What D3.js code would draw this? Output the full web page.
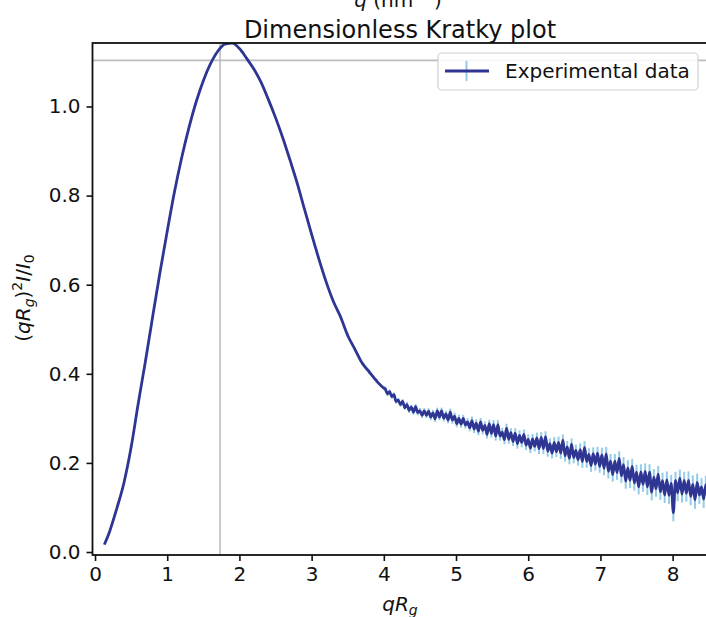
<!DOCTYPE html>
<html><head><meta charset="utf-8">
<script src="https://cdn.jsdelivr.net/npm/d3@7"></script>
<style>body{margin:0;background:#fff} svg{display:block} text{font-family:"DejaVu Sans",sans-serif;fill:#111}</style>
</head><body><svg id="c" width="706" height="617"></svg>
<script>
// ---- data ----
const qRg = [0.13,0.2,0.3,0.4,0.5,0.6,0.7,0.8,0.9,1.0,1.1,1.2,1.3,1.4,1.5,1.6,1.7,1.8,1.9,2.0,
  2.1,2.2,2.3,2.4,2.5,2.6,2.7,2.8,2.9,3.0,3.1,3.2,3.3,3.4,3.5,3.6,3.7,3.8,3.9,4.0,
  4.02,4.05,4.08,4.11,4.14,4.17,4.20,4.23,4.26,4.29,
  4.32,4.35,4.38,4.41,4.44,4.47,4.50,4.53,4.56,4.59,
  4.62,4.65,4.68,4.71,4.74,4.77,4.80,4.83,4.86,4.89,
  4.92,4.95,4.98,5.01,5.04,5.07,5.10,5.13,5.16,5.19,
  5.22,5.25,5.28,5.31,5.34,5.37,5.40,5.43,5.46,5.49,
  5.52,5.55,5.58,5.61,5.64,5.67,5.70,5.73,5.76,5.79,
  5.82,5.85,5.88,5.91,5.94,5.97,6.00,6.03,6.06,6.09,
  6.12,6.15,6.18,6.21,6.24,6.27,6.30,6.33,6.36,6.39,
  6.42,6.45,6.48,6.51,6.54,6.57,6.60,6.63,6.66,6.69,
  6.72,6.75,6.78,6.81,6.84,6.87,6.90,6.93,6.96,6.99,
  7.02,7.05,7.08,7.11,7.14,7.17,7.20,7.23,7.26,7.29,
  7.32,7.35,7.38,7.41,7.44,7.47,7.50,7.53,7.56,7.59,
  7.62,7.65,7.68,7.71,7.74,7.77,7.80,7.83,7.86,7.89,
  7.92,7.95,7.98,8.01,8.04,8.07,8.10,8.13,8.16,8.19,
  8.22,8.25,8.28,8.31,8.34,8.37,8.40,8.43,8.46,8.49];
const kratky = [0.017,0.045,0.097,0.155,0.235,0.335,0.430,0.530,0.628,0.720,0.808,0.885,0.952,1.010,1.058,1.096,1.124,1.140,1.142,1.130,
  1.108,1.084,1.054,1.016,0.975,0.930,0.880,0.828,0.770,0.713,0.658,0.607,0.563,0.528,0.486,0.455,0.424,0.404,0.384,0.368,
  0.366,0.355,0.360,0.349,0.353,0.338,0.341,0.331,0.338,0.324,
  0.331,0.318,0.325,0.314,0.326,0.313,0.317,0.307,0.317,0.307,
  0.316,0.303,0.312,0.299,0.317,0.303,0.317,0.300,0.310,0.296,
  0.314,0.296,0.305,0.288,0.300,0.287,0.300,0.285,0.292,0.279,
  0.295,0.276,0.289,0.271,0.292,0.273,0.284,0.264,0.288,0.266,
  0.286,0.260,0.286,0.260,0.269,0.252,0.278,0.253,0.268,0.248,
  0.267,0.243,0.262,0.246,0.264,0.240,0.253,0.233,0.254,0.237,
  0.256,0.232,0.257,0.232,0.259,0.226,0.243,0.222,0.246,0.225,
  0.246,0.222,0.251,0.216,0.236,0.210,0.242,0.212,0.228,0.207,
  0.230,0.203,0.235,0.203,0.219,0.194,0.221,0.197,0.222,0.192,
  0.218,0.188,0.220,0.181,0.204,0.174,0.204,0.178,0.210,0.171,
  0.196,0.159,0.189,0.161,0.192,0.155,0.179,0.146,0.180,0.152,
  0.181,0.146,0.179,0.134,0.168,0.142,0.175,0.135,0.160,0.128,
  0.162,0.127,0.154,0.088,0.161,0.133,0.166,0.130,0.161,0.132,
  0.161,0.125,0.152,0.117,0.156,0.128,0.146,0.119,0.151,0.130];
const kratkyErr = [0.001,0.001,0.001,0.001,0.001,0.001,0.001,0.001,0.001,0.001,0.001,0.001,0.001,0.001,0.001,0.001,0.001,0.001,0.001,0.001,
  0.002,0.002,0.002,0.002,0.002,0.002,0.002,0.002,0.002,0.003,0.003,0.003,0.003,0.004,0.004,0.004,0.004,0.005,0.005,0.005,
  0.005,0.005,0.005,0.005,0.005,0.005,0.005,0.005,0.005,0.005,
  0.006,0.006,0.006,0.006,0.006,0.006,0.006,0.006,0.006,0.006,
  0.007,0.007,0.007,0.007,0.007,0.007,0.007,0.007,0.007,0.007,
  0.008,0.008,0.008,0.008,0.008,0.008,0.008,0.008,0.008,0.008,
  0.009,0.009,0.009,0.009,0.009,0.009,0.009,0.009,0.009,0.009,
  0.010,0.010,0.010,0.010,0.010,0.010,0.010,0.010,0.010,0.010,
  0.011,0.011,0.011,0.011,0.011,0.011,0.011,0.011,0.011,0.011,
  0.012,0.012,0.012,0.012,0.012,0.012,0.012,0.012,0.012,0.012,
  0.013,0.013,0.013,0.013,0.013,0.013,0.013,0.013,0.013,0.013,
  0.014,0.014,0.014,0.014,0.014,0.014,0.014,0.014,0.014,0.014,
  0.016,0.016,0.016,0.016,0.016,0.016,0.016,0.016,0.016,0.016,
  0.017,0.017,0.017,0.017,0.017,0.017,0.017,0.017,0.017,0.017,
  0.018,0.018,0.018,0.018,0.018,0.018,0.018,0.018,0.018,0.018,
  0.019,0.019,0.019,0.019,0.019,0.019,0.019,0.019,0.019,0.019,
  0.020,0.020,0.020,0.020,0.020,0.020,0.020,0.020,0.020,0.020];
const xTicks = [0,1,2,3,4,5,6,7,8];
const yTicks = [0.0,0.2,0.4,0.6,0.8,1.0];
const guideX = 1.732;   // sqrt(3)
const guideY = 1.1036;  // 3/e
const titleText = "Dimensionless Kratky plot";
const legendLabel = "Experimental data";

// ---- drawing ----
const svg = d3.select("#c");
const m = {left:92.5, right:708, top:43, bottom:555};
const x = d3.scaleLinear().domain([-0.035, 8.49]).range([m.left, m.right]);
const y = d3.scaleLinear().domain([-0.0067, 1.1425]).range([m.bottom, m.top]);
const lineColor = "#2e3592", errColor = "#93cbe8", guideColor = "#bdbdbd";

svg.append("clipPath").attr("id","clip").append("rect")
  .attr("x", m.left).attr("y", m.top).attr("width", m.right-m.left).attr("height", m.bottom-m.top);

const plot = svg.append("g").attr("clip-path","url(#clip)");
plot.append("line").attr("x1", x(guideX)).attr("x2", x(guideX)).attr("y1", m.top).attr("y2", m.bottom)
  .attr("stroke", guideColor).attr("stroke-width", 1.6);
plot.append("line").attr("x1", m.left).attr("x2", m.right).attr("y1", y(guideY)).attr("y2", y(guideY))
  .attr("stroke", guideColor).attr("stroke-width", 1.6);

const data = qRg.map((q,i)=>({q, v:kratky[i], e:kratkyErr[i]}));
plot.append("g").selectAll("line").data(data).join("line")
  .attr("x1", d=>x(d.q)).attr("x2", d=>x(d.q))
  .attr("y1", d=>y(d.v-d.e)).attr("y2", d=>y(d.v+d.e))
  .attr("stroke", errColor).attr("stroke-width", 2);
plot.append("path").datum(data)
  .attr("d", d3.line().x(d=>x(d.q)).y(d=>y(d.v)).curve(d3.curveMonotoneX))
  .attr("fill","none").attr("stroke", lineColor).attr("stroke-width", 2.8).attr("stroke-linejoin","round");

const xAxis = svg.append("g").attr("transform",`translate(0,${m.bottom})`)
  .call(d3.axisBottom(x).tickValues(xTicks).tickFormat(d3.format("d")).tickSize(6).tickPadding(6));
const yAxis = svg.append("g").attr("transform",`translate(${m.left},0)`)
  .call(d3.axisLeft(y).tickValues(yTicks).tickFormat(d3.format(".1f")).tickSize(6).tickPadding(6));
[xAxis,yAxis].forEach(a=>{
  a.select(".domain").remove();
  a.selectAll(".tick line").attr("stroke","#111").attr("stroke-width",1.6);
  a.selectAll(".tick text").attr("font-size",20).attr("font-family","DejaVu Sans").attr("fill","#111");
});
svg.append("rect").attr("x", m.left).attr("y", m.top).attr("width", m.right-m.left).attr("height", m.bottom-m.top)
  .attr("fill","none").attr("stroke","#111").attr("stroke-width",1.8);

const lg = svg.append("g");
lg.append("rect").attr("x",438).attr("y",53).attr("width",260).attr("height",37).attr("rx",4)
  .attr("fill","#fff").attr("fill-opacity",0.85).attr("stroke","#d0d0d0").attr("stroke-width",1.2);
lg.append("line").attr("x1",466.5).attr("x2",466.5).attr("y1",61).attr("y2",81).attr("stroke",errColor).attr("stroke-width",2);
lg.append("line").attr("x1",445).attr("x2",489).attr("y1",71).attr("y2",71).attr("stroke",lineColor).attr("stroke-width",2.8);
lg.append("text").attr("x",505).attr("y",78).attr("font-size",20).text(legendLabel);

svg.append("text").attr("x",400).attr("y",38).attr("text-anchor","middle").attr("font-size",24).text(titleText);
const topLbl = svg.append("text").attr("x",398).attr("y",7).attr("text-anchor","middle").attr("font-size",20);
topLbl.append("tspan").attr("font-style","italic").text("q");
topLbl.append("tspan").text(" (nm");
topLbl.append("tspan").attr("dy",-8).attr("font-size",14).text("−1");
topLbl.append("tspan").attr("dy",8).text(")");

const xl = svg.append("text").attr("x",400).attr("y",611).attr("text-anchor","middle").attr("font-size",20);
xl.append("tspan").attr("font-style","italic").text("qR");
xl.append("tspan").attr("font-style","italic").attr("font-size",14).attr("dy",4).text("g");

const yl = svg.append("text").attr("transform","translate(30,298) rotate(-90)").attr("text-anchor","middle").attr("font-size",20);
yl.append("tspan").text("(");
yl.append("tspan").attr("font-style","italic").text("qR");
yl.append("tspan").attr("font-style","italic").attr("font-size",14).attr("dy",4).text("g");
yl.append("tspan").attr("dy",-4).text(")");
yl.append("tspan").attr("font-size",14).attr("dy",-8).text("2");
yl.append("tspan").attr("font-style","italic").attr("dy",8).text("I");
yl.append("tspan").text("/");
yl.append("tspan").attr("font-style","italic").text("I");
yl.append("tspan").attr("font-size",14).attr("dy",4).text("0");
</script></body></html>
